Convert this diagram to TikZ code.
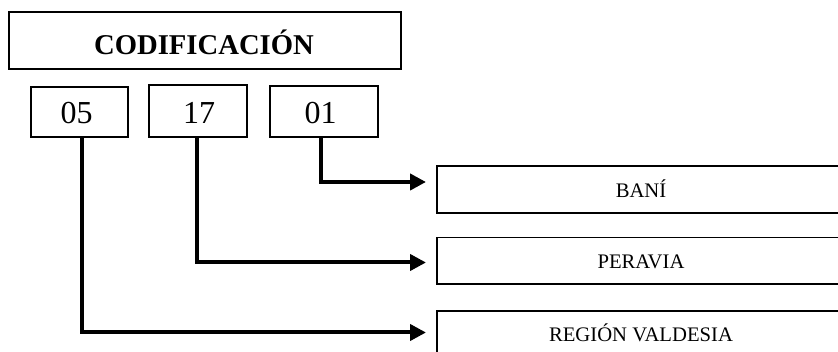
\documentclass[tikz,border=0pt]{standalone}
\usepackage{fontspec}
\setmainfont{Liberation Serif}
\usetikzlibrary{arrows.meta}
\begin{document}
\begin{tikzpicture}[x=0.75pt,y=-0.75pt,
  box/.style={draw=black,line width=1.4pt,inner sep=0pt,fill=white},
  lbl/.style={anchor=base,inner sep=0pt},
  conn/.style={line width=3pt,-{Triangle[length=12pt,width=12pt]}}]
\useasboundingbox (0,0) rectangle (838,352);
\clip (0,0) rectangle (838,352);
% boxes
\node[box,minimum width=294pt,minimum height=43pt] (cod) at (205,40.5) {};
\node[lbl,font=\fontsize{21.5}{24}\selectfont\bfseries] (codt) at (204,55) {CODIFICACIÓN};
\node[box,minimum width=72.75pt,minimum height=37.5pt] (n05) at (79.5,112) {};
\node[box,minimum width=73.5pt,minimum height=39pt] (n17) at (198,111) {};
\node[box,minimum width=81pt,minimum height=38.25pt] (n01) at (324,111.5) {};
\node[lbl,font=\fontsize{24}{28}\selectfont] (t05) at (76.5,123.3) {05};
\node[lbl,font=\fontsize{24}{28}\selectfont] (t17) at (199,123.3) {17};
\node[lbl,font=\fontsize{24}{28}\selectfont] (t01) at (320.5,123.3) {01};
\node[box,minimum width=306pt,minimum height=35pt] (bani) at (641,189.5) {};
\node[box,minimum width=306pt,minimum height=35pt] (peravia) at (641,260.8) {};
\node[box,minimum width=306pt,minimum height=35pt] (region) at (641,334.5) {};
\node[lbl,font=\fontsize{15.5}{18}\selectfont] (tb) at (641,197.3) {BANÍ};
\node[lbl,font=\fontsize{15.5}{18}\selectfont] (tp) at (641,268.3) {PERAVIA};
\node[lbl,font=\fontsize{15.5}{18}\selectfont] (tr) at (641,341.7) {REGIÓN VALDESIA};
% arrow ends
\coordinate (e1) at (426,182);
\coordinate (e2) at (426,262.5);
\coordinate (e3) at (426,332.5);
% connectors
\draw[conn] ([xshift=-2.25pt]n01.south) |- (e1);
\draw[conn] ([xshift=-0.75pt]n17.south) |- (e2);
\draw[conn] ([xshift=1.9pt]n05.south) |- (e3);
\end{tikzpicture}
\end{document}
